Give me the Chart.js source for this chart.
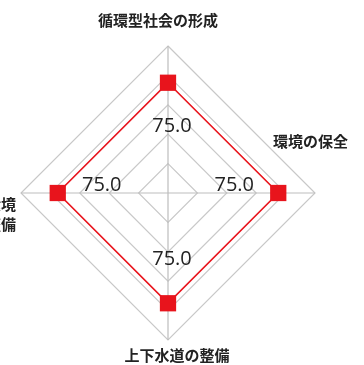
<!DOCTYPE html>
<html>
<head>
<meta charset="utf-8">
<script src="https://cdn.jsdelivr.net/npm/chart.js@4.4.1/dist/chart.umd.min.js"></script>
<style>
  html, body { margin: 0; padding: 0; background: #ffffff; }
  #wrap { width: 364px; height: 365px; position: relative; }
</style>
</head>
<body>
<div id="wrap"><canvas id="c" width="364" height="365"></canvas></div>
<script>
// Radar axes (clockwise from the top) and their scores
const categories = [
  ['循環型社会の形成'],
  ['環境の保全'],
  ['上下水道の整備'],
  ['生活環境', 'の整備']
];
const scores = [75.0, 75.0, 75.0, 75.0];
const scaleMin = 0;
const scaleMax = 100;
const scaleStep = 20;

const RED = '#e8141c';
const TEXT = '#222222';

// Axis captions, placed around the outer ring
const axisCaptions = {
  id: 'axisCaptions',
  afterDraw(chart) {
    const s = chart.scales.r;
    const ctx = chart.ctx;
    const cx = s.xCenter, cy = s.yCenter, r = s.drawingArea;
    ctx.save();
    ctx.fillStyle = TEXT;
    ctx.font = '600 15px "Noto Sans CJK JP", "Noto Sans", sans-serif';
    ctx.textBaseline = 'middle';
    const lh = 20;
    // top
    ctx.textAlign = 'center';
    ctx.fillText(categories[0][0], cx - 10, cy - r - 26);
    // right
    ctx.textAlign = 'left';
    ctx.fillText(categories[1][0], cx + r - 42, cy - 52);
    // bottom
    ctx.textAlign = 'center';
    ctx.fillText(categories[2][0], cx + 9, cy + r + 15);
    // left (two lines, right-aligned, partly beyond the canvas edge)
    ctx.textAlign = 'right';
    categories[3].forEach((t, k) => ctx.fillText(t, cx - r - 5, cy + 11 + k * lh));
    ctx.restore();
  }
};

// Value labels, drawn inward from each data point
const valueLabels = {
  id: 'valueLabels',
  afterDatasetsDraw(chart) {
    const s = chart.scales.r;
    const ctx = chart.ctx;
    const meta = chart.getDatasetMeta(0);
    ctx.save();
    ctx.fillStyle = TEXT;
    ctx.font = '20px "Open Sans", "Liberation Sans", sans-serif';
    ctx.textAlign = 'center';
    ctx.textBaseline = 'middle';
    meta.data.forEach((pt, i) => {
      const d = Math.hypot(pt.x - s.xCenter, pt.y - s.yCenter);
      const p = s.getPointPosition(i, d - 44);
      const horizontal = Math.abs(p.y - s.yCenter) < 1;
      const x = p.x + (horizontal ? 0 : 4);
      const y = p.y + (horizontal ? -8 : 0);
      ctx.fillText(scores[i].toFixed(1), x, y);
    });
    ctx.restore();
  }
};

new Chart(document.getElementById('c'), {
  type: 'radar',
  data: {
    labels: categories,
    datasets: [{
      data: scores,
      borderColor: RED,
      borderWidth: 1.6,
      backgroundColor: 'rgba(0,0,0,0)',
      fill: false,
      pointStyle: 'rect',
      pointRadius: 11.5,
      pointBorderWidth: 0,
      pointBackgroundColor: RED,
      pointBorderColor: RED,
      tension: 0
    }]
  },
  options: {
    responsive: false,
    animation: false,
    layout: { padding: { left: 21, right: 49, top: 46, bottom: 25 } },
    plugins: { legend: { display: false }, tooltip: { enabled: false } },
    scales: {
      r: {
        min: scaleMin,
        max: scaleMax,
        ticks: { stepSize: scaleStep, display: false },
        grid: { color: '#c8c8c8', lineWidth: 1.2 },
        angleLines: { color: '#bdbdbd', lineWidth: 1.2 },
        pointLabels: { display: false }
      }
    }
  },
  plugins: [axisCaptions, valueLabels]
});
</script>
</body>
</html>
